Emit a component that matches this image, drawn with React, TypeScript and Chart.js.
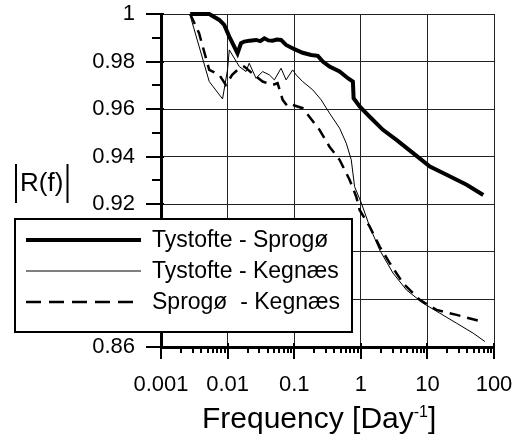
import React, { useEffect, useRef } from "react";
import { Chart, registerables } from "chart.js";

Chart.register(...registerables);

// ---- Data ----
const seriesLabels = ["Tystofte - Sprogø", "Tystofte - Kegnæs", "Sprogø  - Kegnæs"];

const freqTS = [0.00274, 0.0053, 0.0075, 0.0089, 0.0106, 0.0141, 0.0159, 0.0178, 0.0215, 0.0267, 0.031, 0.0356, 0.041, 0.0474, 0.055, 0.0635, 0.0755, 0.1007, 0.134, 0.18, 0.226, 0.269, 0.339, 0.48, 0.64, 0.761, 0.78, 0.96, 1.36, 2.15, 3.43, 6.1, 10.9, 19.4, 38.8, 69];
const valTS = [1.0, 1.0, 0.9975, 0.9954, 0.9905, 0.9835, 0.9877, 0.9884, 0.9888, 0.9891, 0.9886, 0.9898, 0.9889, 0.9888, 0.9893, 0.9891, 0.987, 0.9852, 0.9837, 0.9828, 0.9824, 0.98, 0.9779, 0.9758, 0.973, 0.9716, 0.9646, 0.9611, 0.9568, 0.9513, 0.9471, 0.9415, 0.9359, 0.9324, 0.9282, 0.9239];

const freqTK = [0.0027, 0.0053, 0.0084, 0.00997, 0.0106, 0.015, 0.0189, 0.0211, 0.0267, 0.0336, 0.0424, 0.0504, 0.0635, 0.0755, 0.0949, 0.107, 0.134, 0.19, 0.254, 0.339, 0.48, 0.605, 0.719, 0.807, 1.02, 1.36, 1.92, 3.04, 4.84, 8.61, 15.4, 27.4, 48.8, 73];
const valTK = [1.0, 0.9716, 0.9643, 0.9765, 0.9849, 0.9779, 0.9758, 0.9793, 0.973, 0.9758, 0.9744, 0.9723, 0.9772, 0.9723, 0.9765, 0.9744, 0.9716, 0.9681, 0.9639, 0.9583, 0.952, 0.9457, 0.9387, 0.9274, 0.9205, 0.9106, 0.9008, 0.8911, 0.884, 0.8784, 0.8742, 0.87, 0.8658, 0.8623];

const freqSK = [0.00274, 0.00373, 0.0053, 0.0075, 0.0094, 0.0117, 0.015, 0.0178, 0.0267, 0.0336, 0.0474, 0.0563, 0.0671, 0.0798, 0.0949, 0.134, 0.169, 0.24, 0.339, 0.48, 0.678, 0.855, 0.96, 1.36, 1.92, 2.72, 4.31, 7.69, 13.7, 27.4, 65];
const valSK = [1.0, 0.9919, 0.9765, 0.9744, 0.9702, 0.9744, 0.9772, 0.9779, 0.9737, 0.9716, 0.9702, 0.9709, 0.9639, 0.9611, 0.9618, 0.9604, 0.9568, 0.9513, 0.9442, 0.9387, 0.9303, 0.9232, 0.9176, 0.9106, 0.9022, 0.8953, 0.8868, 0.8798, 0.8756, 0.8735, 0.8707];

const xTickValues = [0.001, 0.01, 0.1, 1, 10, 100];
const xTickLabels = ["0.001", "0.01", "0.1", "1", "10", "100"];
const yTickValues = [0.86, 0.88, 0.9, 0.92, 0.94, 0.96, 0.98, 1];
const yTickLabels = ["0.86", "0.88", "0.9", "0.92", "0.94", "0.96", "0.98", "1"];
const yMinorValues = [0.87, 0.89, 0.91, 0.93, 0.95, 0.97, 0.99];
const xMinorMultipliers = [2, 3, 4, 5, 6, 7, 8, 9];

const FONT = "'Liberation Sans', Arial, Helvetica, sans-serif";

function pts(xs: number[], ys: number[]) {
  return xs.map((x, i) => ({ x, y: ys[i] }));
}

const zeroPad = (s: any) => {
  s.paddingTop = 0;
  s.paddingBottom = 0;
  s.paddingLeft = 0;
  s.paddingRight = 0;
};

const decorPlugin = {
  id: "decor",
  afterDraw(chart: any) {
    const ctx = chart.ctx as CanvasRenderingContext2D;
    const xs = chart.scales.x;
    const ys = chart.scales.y;
    const { left, bottom } = chart.chartArea;
    ctx.save();
    ctx.strokeStyle = "#000";
    ctx.lineWidth = 2;
    const seg = (x1: number, y1: number, x2: number, y2: number) => {
      ctx.beginPath();
      ctx.moveTo(x1, y1);
      ctx.lineTo(x2, y2);
      ctx.stroke();
    };
    // y ticks
    for (const v of yTickValues) {
      const py = Math.round(ys.getPixelForValue(v));
      seg(left - 15, py, left + 3, py);
    }
    for (const v of yMinorValues) {
      const py = Math.round(ys.getPixelForValue(v));
      seg(left - 9, py, left, py);
    }
    // x ticks
    for (const v of xTickValues) {
      const px = Math.round(xs.getPixelForValue(v));
      seg(px, bottom - 4, px, bottom + 12);
    }
    for (let i = 0; i < xTickValues.length - 1; i++) {
      for (const m of xMinorMultipliers) {
        const px = Math.round(xs.getPixelForValue(xTickValues[i] * m));
        seg(px, bottom, px, bottom + 6);
      }
    }

    // y title |R(f)|
    ctx.fillStyle = "#000";
    ctx.font = `26px ${FONT}`;
    ctx.textAlign = "left";
    ctx.textBaseline = "alphabetic";
    ctx.fillText("R(f)", 20, 191);
    ctx.lineWidth = 2;
    seg(16, 164, 16, 203);
    seg(67.5, 164, 67.5, 203);

    // x title Frequency [Day-1]
    let tx = 202;
    const baseY = 428;
    ctx.font = `30px ${FONT}`;
    const main = "Frequency [Day";
    ctx.fillText(main, tx, baseY);
    tx += ctx.measureText(main).width;
    ctx.font = `16px ${FONT}`;
    ctx.fillText("-1", tx, baseY - 11);
    tx += ctx.measureText("-1").width;
    ctx.font = `30px ${FONT}`;
    ctx.fillText("]", tx, baseY);

    // legend box
    const bx = 15, by = 219, bw = 337, bh = 113;
    ctx.fillStyle = "#fff";
    ctx.fillRect(bx, by, bw, bh);
    ctx.lineWidth = 2;
    ctx.strokeStyle = "#000";
    ctx.strokeRect(bx, by, bw, bh);
    const rowsY = [240, 271, 302];
    chart.data.datasets.forEach((ds: any, i: number) => {
      const y = rowsY[i];
      ctx.save();
      ctx.lineWidth = ds.borderWidth;
      ctx.strokeStyle = ds.borderColor;
      ctx.setLineDash(ds.borderDash && ds.borderDash.length ? [15, 8] : []);
      ctx.lineCap = "butt";
      seg(26, y, 141, y);
      ctx.restore();
      ctx.fillStyle = "#000";
      ctx.font = `23px ${FONT}`;
      ctx.textBaseline = "middle";
      ctx.fillText(ds.label, 152, y + 1);
    });
    ctx.restore();
  },
};

export default function App() {
  const ref = useRef<HTMLCanvasElement | null>(null);
  useEffect(() => {
    if (!ref.current) return;
    const chart = new Chart(ref.current, {
      type: "line",
      data: {
        datasets: [
          {
            label: seriesLabels[0],
            data: pts(freqTS, valTS),
            borderColor: "#000",
            borderWidth: 4,
            pointRadius: 0,
            fill: false,
            tension: 0,
            clip: 6,
          },
          {
            label: seriesLabels[1],
            data: pts(freqTK, valTK),
            borderColor: "#000",
            borderWidth: 1,
            pointRadius: 0,
            fill: false,
            tension: 0,
            clip: 6,
          },
          {
            label: seriesLabels[2],
            data: pts(freqSK, valSK),
            borderColor: "#000",
            borderWidth: 2.5,
            borderDash: [11, 7],
            pointRadius: 0,
            fill: false,
            tension: 0,
            clip: 6,
          },
        ] as any,
      },
      options: {
        animation: false,
        responsive: false,
        devicePixelRatio: 1,
        parsing: false as any,
        layout: { padding: { left: 0, right: 24, top: 14, bottom: 0 } },
        plugins: { legend: { display: false }, tooltip: { enabled: false } },
        scales: {
          x: {
            type: "logarithmic",
            min: 0.001,
            max: 100,
            afterBuildTicks: (s: any) => {
              s.ticks = xTickValues.map((v) => ({ value: v }));
            },
            afterFit: (s: any) => {
              s.height = 98;
              zeroPad(s);
            },
            grid: { color: "#222", lineWidth: 1, drawTicks: false },
            border: { color: "#000", width: 3 },
            ticks: {
              autoSkip: false,
              maxRotation: 0,
              minRotation: 0,
              padding: 25,
              color: "#000",
              font: { family: FONT, size: 22 },
              callback: (_v: any, i: number) => xTickLabels[i],
            },
          },
          y: {
            type: "linear",
            min: 0.86,
            max: 1,
            afterBuildTicks: (s: any) => {
              s.ticks = yTickValues.map((v) => ({ value: v }));
            },
            afterFit: (s: any) => {
              s.width = 161;
              zeroPad(s);
            },
            grid: { color: "#222", lineWidth: 1, drawTicks: false },
            border: { color: "#000", width: 3 },
            ticks: {
              padding: 26,
              color: "#000",
              font: { family: FONT, size: 22 },
              callback: (_v: any, i: number) => yTickLabels[i],
            },
          },
        },
      } as any,
      plugins: [decorPlugin],
    });
    return () => chart.destroy();
  }, []);
  return (
    <div style={{ position: "absolute", left: 0, top: 0, width: 518, height: 445, background: "#fff" }}>
      <canvas ref={ref} width={518} height={445} />
    </div>
  );
}
